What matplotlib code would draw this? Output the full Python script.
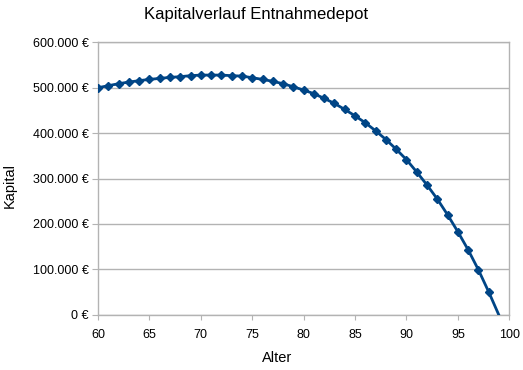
import matplotlib
matplotlib.use("Agg")
import matplotlib.pyplot as plt
from matplotlib.ticker import FuncFormatter, MultipleLocator

plt.rcParams['font.family'] = ['Liberation Sans', 'DejaVu Sans']

ages = list(range(60, 100))
capital = [500000, 504400, 508800, 512400, 515500, 518300, 520500, 522700, 524300, 526500,
           527800, 527800, 527800, 526500, 525600, 522000, 518300, 514000, 508800, 502000,
           494700, 486800, 476400, 465300, 452000, 438000, 422700, 405000, 385900, 364500,
           341500, 314300, 285600, 254700, 220000, 182600, 142800, 98700, 50100, -1500]

title = "Kapitalverlauf Entnahmedepot"
xlabel = "Alter"
ylabel = "Kapital"

color = "#004586"
grid_c = "#b3b3b3"

fig = plt.figure(figsize=(5.23, 3.70), dpi=100)
ax = fig.add_axes([98/523, 1-314.7/370, (509.3-98)/523, (314.7-42.3)/370])

ax.plot(ages, capital, color=color, lw=2, marker='D', ms=4.5, mec=color, mfc=color,
        markevery=list(range(len(ages)-1)), zorder=3)

ax.set_xlim(60, 100)
ax.set_ylim(0, 600000)
ax.xaxis.set_major_locator(MultipleLocator(5))
ax.yaxis.set_major_locator(MultipleLocator(100000))
ax.yaxis.set_major_formatter(FuncFormatter(lambda v, p: f"{int(v):,} €".replace(",", ".")))

ax.grid(axis='y', color=grid_c, lw=1)
ax.set_axisbelow(True)
for s in ax.spines.values():
    s.set_color(grid_c)
    s.set_linewidth(1)
ax.tick_params(axis='both', colors=grid_c, labelcolor='black', labelsize=9)
ax.tick_params(axis='y', length=4.5, pad=2)
ax.tick_params(axis='x', length=3.5, pad=6.5)

fig.text(256/523, 1-14/370, title, ha='center', va='center', fontsize=12)
fig.text(277/523, 1-358/370, xlabel, ha='center', va='center', fontsize=10.5)
fig.text(10/523, 1-186/370, ylabel, ha='center', va='center', rotation=90, fontsize=10.5)

fig.savefig("out.png", dpi=100)
